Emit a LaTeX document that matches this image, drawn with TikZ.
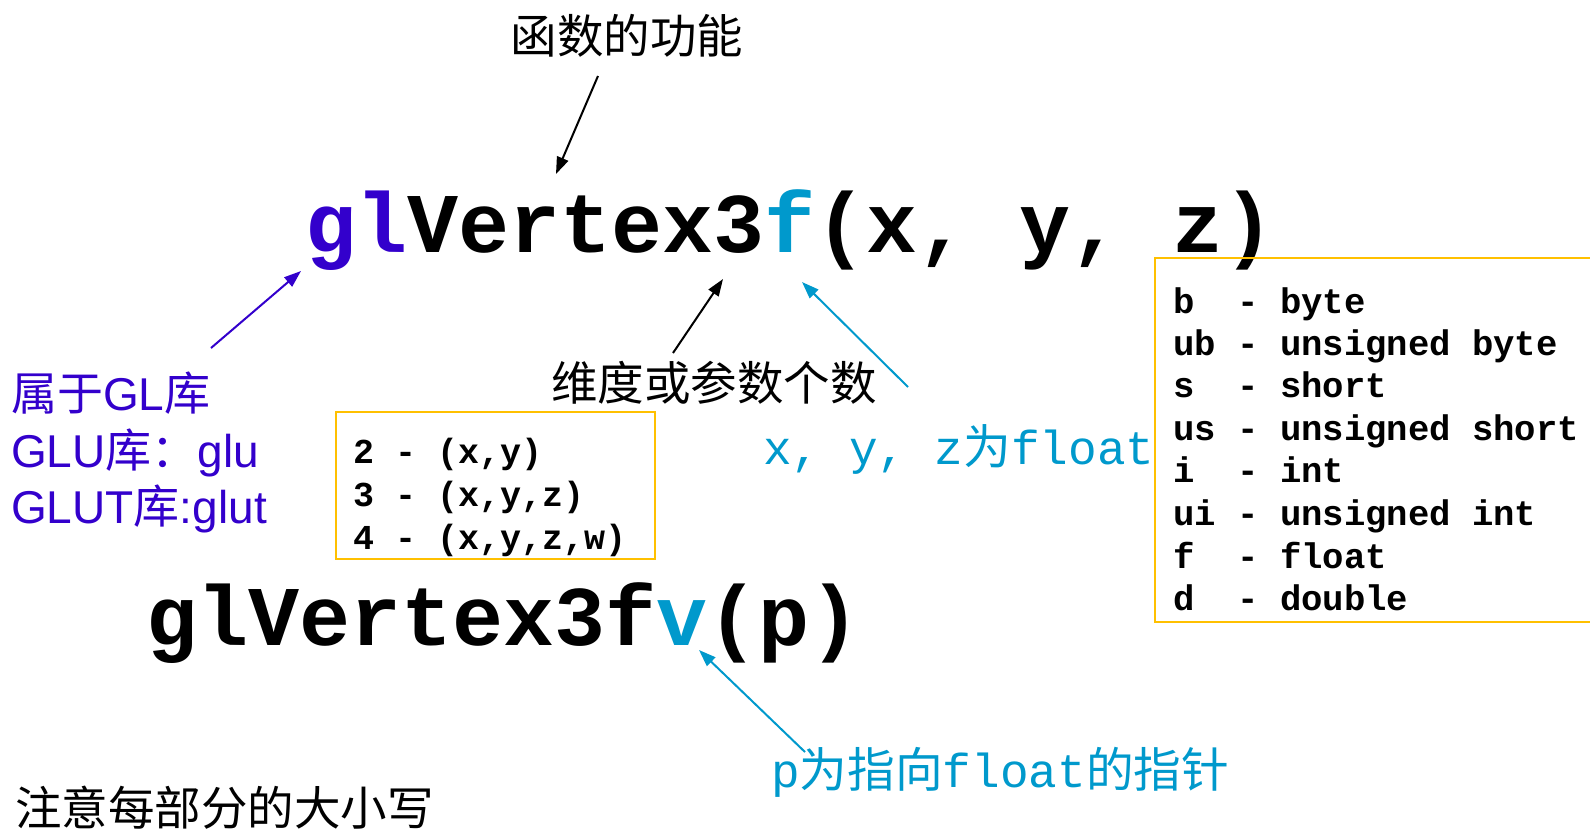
\documentclass[tikz,border=0pt]{standalone}
\usepackage{fontspec}
\usetikzlibrary{arrows.meta}
\newfontfamily\cjk{Noto Sans CJK SC}
\newfontfamily\mono{Liberation Mono}
\newfontfamily\arialf{Liberation Sans}
\definecolor{glpurple}{RGB}{51,0,204}
\definecolor{fcyan}{RGB}{0,153,204}
\definecolor{boxorange}{RGB}{255,192,0}
\tikzset{
  txt/.style={inner sep=0pt, anchor=base west},
  arr/.style={line width=2pt, -{Triangle[length=17pt,width=12pt]}},
  obox/.style={draw=boxorange, line width=2pt},
  bigcode/.style={txt, font=\fontsize{85}{85}\selectfont\mono\bfseries},
  smallcode/.style={txt, font=\fontsize{35}{35}\selectfont\mono\bfseries},
  typecode/.style={txt, font=\fontsize{35.6}{35.6}\selectfont\mono\bfseries},
  cnlabel/.style={inner sep=0pt, font=\fontsize{46.5}{46.5}\selectfont\cjk},
  cyanlabel/.style={txt, text=fcyan, font=\fontsize{47.7}{47.7}\selectfont\mono},
  purplelabel/.style={txt, text=glpurple, font=\fontsize{46}{46}\selectfont\arialf},
}
\begin{document}
\begin{tikzpicture}[x=1pt,y=-1pt]
\useasboundingbox (0,0) rectangle (1590,831);

% main function names
\node[bigcode] (main) at (305,252) {\textcolor{glpurple}{gl}Vertex3\textcolor{fcyan}{f}(x, y, z)};
\node[bigcode] (mainv) at (146,645) {glVertex3f\textcolor{fcyan}{v}(p)};

% top label
\node[cnlabel, anchor=center] (func) at (627,36) {函数的功能};
\coordinate (funcTail) at (598,76);
\coordinate (funcHead) at (556,174);
\draw[arr] (funcTail) -- (funcHead);

% left library labels
\node[purplelabel] (lib1) at (11,410) {{\cjk 属于}GL{\cjk 库}};
\node[purplelabel] (lib2) at (11,467) {GLU{\cjk 库：}glu};
\node[purplelabel] (lib3) at (11,523) {GLUT{\cjk 库}:glut};
\coordinate (libTail) at (211,348);
\coordinate (libHead) at (301,271);
\draw[arr, glpurple] (libTail) -- (libHead);

% dimension label
\node[cnlabel, anchor=center] (dim) at (714,383) {维度或参数个数};
\coordinate (dimTail) at (673,353);
\coordinate (dimHead) at (723,279);
\draw[arr] (dimTail) -- (dimHead);

% small box
\node[obox, anchor=north west, minimum width=319pt, minimum height=147pt, inner sep=0pt] (dimbox) at (335,411) {};
\node[smallcode] (d2) at (353,463) {2 - (x,y)};
\node[smallcode] (d3) at (353,506) {3 - (x,y,z)};
\node[smallcode] (d4) at (353,549) {4 - (x,y,z,w)};

% float label
\node[cyanlabel] (xyz) at (763,464) {x, y, z{\cjk 为}float};
\coordinate (xyzTail) at (908,387);
\coordinate (xyzHead) at (802,282);
\draw[arr, fcyan] (xyzTail) -- (xyzHead);

% type box (open on the right, cut by the page edge)
\coordinate (tbTR) at (1590,258);
\coordinate (tbTL) at (1155,258);
\coordinate (tbBL) at (1155,622);
\coordinate (tbBR) at (1590,622);
\draw[obox] (tbTR) -- (tbTL) -- (tbBL) -- (tbBR);
\node[typecode] (t1) at (1173,313) {b~~-~byte};
\node[typecode] (t2) at (1173,355) {ub~-~unsigned~byte};
\node[typecode] (t3) at (1173,397) {s~~-~short};
\node[typecode] (t4) at (1173,440) {us~-~unsigned~short};
\node[typecode] (t5) at (1173,482) {i~~-~int};
\node[typecode] (t6) at (1173,525) {ui~-~unsigned~int};
\node[typecode] (t7) at (1173,568) {f~~-~float};
\node[typecode] (t8) at (1173,610) {d~~-~double};

% pointer label
\node[cyanlabel] (ptr) at (771,787) {p{\cjk 为指向}float{\cjk 的指针}};
\coordinate (ptrTail) at (805,752);
\coordinate (ptrHead) at (699,650);
\draw[arr, fcyan] (ptrTail) -- (ptrHead);

% note
\node[cnlabel, anchor=west] (note) at (15,808) {注意每部分的大小写};
\end{tikzpicture}
\end{document}
